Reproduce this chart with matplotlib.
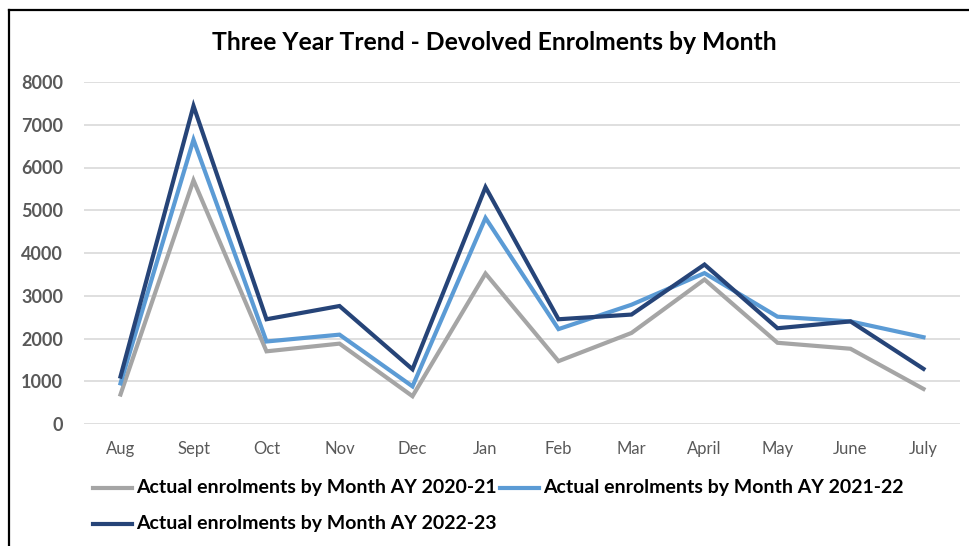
import matplotlib
matplotlib.use("Agg")
import matplotlib.pyplot as plt
from matplotlib.lines import Line2D

months = ["Aug", "Sept", "Oct", "Nov", "Dec", "Jan", "Feb", "Mar", "April", "May", "June", "July"]
ay_2020_21 = [690, 5700, 1700, 1880, 650, 3520, 1470, 2130, 3380, 1900, 1760, 820]
ay_2021_22 = [950, 6650, 1930, 2090, 880, 4820, 2220, 2790, 3530, 2510, 2400, 2030]
ay_2022_23 = [1110, 7440, 2450, 2760, 1280, 5540, 2450, 2560, 3730, 2240, 2400, 1290]
series_labels = ["Actual enrolments by Month AY 2020-21",
                 "Actual enrolments by Month AY 2021-22",
                 "Actual enrolments by Month AY 2022-23"]
yticks = [0, 1000, 2000, 3000, 4000, 5000, 6000, 7000, 8000]

FONT = ["Lato", "DejaVu Sans"]
plt.rcParams["font.family"] = FONT

W, H = 969, 546
fig = plt.figure(figsize=(W / 100, H / 100), dpi=100)
ax = fig.add_axes([84 / W, 1 - 424 / H, (960 - 84) / W, (424 - 82) / H])

colors = ["#A5A5A5", "#5B9BD5", "#264478"]
x = list(range(len(months)))
handles = []
for vals, c, lab in zip([ay_2020_21, ay_2021_22, ay_2022_23], colors, series_labels):
    h, = ax.plot(x, vals, color=c, lw=3.0, solid_joinstyle="miter", label=lab, zorder=3)
    handles.append(h)

ax.set_xlim(-0.5, len(months) - 0.5)
ax.set_ylim(0, 8000)
ax.set_yticks(yticks)
ax.set_yticklabels([str(t) for t in yticks], fontsize=13, fontweight="bold", color="#595959")
ax.set_xticks(x)
ax.set_xticklabels(months, fontsize=12, color="#595959")
ax.tick_params(axis="both", length=0)
ax.tick_params(axis="y", pad=15)
ax.tick_params(axis="x", pad=12)
ax.grid(axis="y", color="#D9D9D9", lw=1.2, zorder=0)
for s in ax.spines.values():
    s.set_visible(False)

fig.text(494 / W, 1 - 42 / H, "Three Year Trend - Devolved Enrolments by Month",
         ha="center", va="center", fontsize=17.8, fontweight="bold", color="black")

# legend (laid out like the Excel legend: two entries on row 1, one on row 2)
legend_slots = [(93, 488), (500, 488), (93, 524)]
for h, (lx, ly) in zip(handles, legend_slots):
    fig.add_artist(Line2D([lx / W, (lx + 39) / W], [1 - ly / H, 1 - ly / H],
                          color=h.get_color(), lw=3.0, transform=fig.transFigure))
    fig.text((lx + 43) / W, 1 - ly / H, h.get_label(), ha="left", va="center",
             fontsize=14, fontweight="bold", color="black")

# outer frame (left and top edges visible)
fig.add_artist(Line2D([8.5 / W, 8.5 / W], [0, 1 - 10 / H], color="black", lw=1.6,
                      transform=fig.transFigure))
fig.add_artist(Line2D([8.5 / W, 1], [1 - 10 / H, 1 - 10 / H], color="black", lw=1.6,
                      transform=fig.transFigure))

fig.savefig("out.png", dpi=100)
